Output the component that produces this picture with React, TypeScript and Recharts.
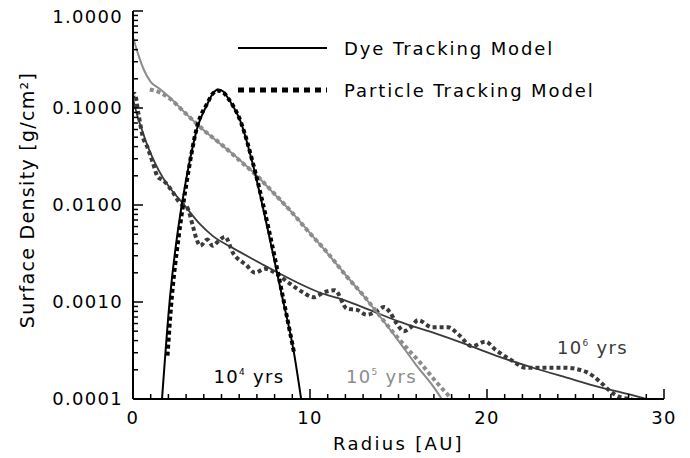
import React from "react";
import {
  LineChart,
  Line,
  XAxis,
  YAxis,
  Legend,
  ReferenceDot,
} from "recharts";

// ---- data: [radius AU, surface density g/cm^2] ----
const dye1e4: [number, number][] = [
  [1.64, 0.0001], [2.09, 0.00112], [2.54, 0.0055], [2.8, 0.0112], [3.2, 0.0282],
  [3.64, 0.0631], [4.2, 0.11], [4.5, 0.14], [4.8, 0.155], [5.1, 0.148], [5.4, 0.124],
  [6.1, 0.0708], [6.8, 0.0251], [7.6, 0.00575], [8.35, 0.00132], [9.1, 0.000295],
  [9.5, 0.0001],
];
const particle1e4: [number, number][] = [
  [1.95, 0.00028], [2.15, 0.0009], [2.6, 0.005], [3.0, 0.0158], [3.64, 0.066],
  [4.2, 0.112], [4.5, 0.14], [4.8, 0.151], [5.1, 0.145], [5.4, 0.124], [6.1, 0.071],
  [6.8, 0.026], [7.65, 0.0058], [8.4, 0.0013], [9.1, 0.0003],
];
const dye1e5: [number, number][] = [
  [0, 0.537], [0.3, 0.355], [0.6, 0.251], [1.0, 0.186], [1.5, 0.158], [2.0, 0.132],
  [3.0, 0.087], [4.0, 0.0589], [5.0, 0.0417], [6.0, 0.0295], [7.0, 0.02],
  [8.0, 0.0129], [9.0, 0.0083], [10.0, 0.00513], [11.0, 0.00316], [12.0, 0.00191],
  [13.0, 0.00117], [14.0, 0.000692], [15.0, 0.000398], [16.0, 0.000224],
  [17.0, 0.000132], [17.45, 0.0001],
];
const particle1e5: [number, number][] = [
  [0.95, 0.155], [1.5, 0.145], [2.0, 0.128], [3.0, 0.087], [4.0, 0.059], [5.0, 0.042],
  [6.0, 0.029], [7.0, 0.02], [8.0, 0.013], [9.0, 0.0083], [10.0, 0.0051],
  [11.0, 0.0032], [12.0, 0.0019], [13.0, 0.00118], [14.0, 0.0007], [14.6, 0.00051],
  [15.5, 0.00033], [16.2, 0.00024], [17.0, 0.00016], [17.5, 0.000126], [18.0, 0.0001],
];
const dye1e6: [number, number][] = [
  [0, 0.126], [0.2, 0.089], [0.5, 0.06], [0.8, 0.0417], [1.2, 0.0282], [1.7, 0.019],
  [2.2, 0.0141], [2.8, 0.0105], [3.8, 0.0063], [4.5, 0.0048], [5.7, 0.00355],
  [7.2, 0.00251], [8.2, 0.002], [9.3, 0.00158], [10.5, 0.00126], [11.9, 0.00105],
  [13.5, 0.00081], [15.0, 0.00063], [17.0, 0.00048], [18.75, 0.00037],
  [20.5, 0.00028], [22.6, 0.00021], [24.5, 0.000166], [26.4, 0.000132],
  [28.0, 0.000112], [29.0, 0.0001],
];
const particle1e6: [number, number][] = [
  [0, 0.13], [0.1, 0.14], [0.3, 0.089], [0.56, 0.05], [0.8, 0.04], [1.1, 0.028],
  [1.4, 0.0195], [1.7, 0.018], [2.2, 0.014], [2.65, 0.0105], [3.05, 0.0095],
  [3.4, 0.0059], [3.6, 0.0044], [3.8, 0.0038], [4.2, 0.0044], [4.5, 0.0038],
  [4.8, 0.0042], [5.2, 0.0047], [5.65, 0.0032], [6.4, 0.0024], [6.9, 0.002],
  [7.45, 0.0022], [8.2, 0.0019], [8.75, 0.0016], [9.6, 0.00126], [10.2, 0.00112],
  [10.8, 0.00126], [11.4, 0.00132], [12.1, 0.00085], [12.65, 0.00083],
  [13.2, 0.00074], [13.7, 0.00079], [14.2, 0.00089], [14.5, 0.00079],
  [14.9, 0.0006], [15.3, 0.0005], [15.7, 0.00055], [16.1, 0.00065], [16.9, 0.00055],
  [17.8, 0.00055], [18.4, 0.00046], [19.15, 0.00035], [19.9, 0.00039],
  [20.5, 0.00032], [21.4, 0.00025], [22.2, 0.00021], [23.3, 0.00021],
  [24.4, 0.00021], [25.6, 0.00019], [26.4, 0.00015], [26.9, 0.000123],
  [27.5, 0.000105], [28.2, 0.0001],
];

// ---- ticks ----
const xTicks: number[] = Array.from({ length: 31 }, (_, i) => i);
const xMajor = [0, 10, 20, 30];
const yMajor = [0.0001, 0.001, 0.01, 0.1, 1];
const yMajorLabels = ["0.0001", "0.0010", "0.0100", "0.1000", "1.0000"];
const yTicks: number[] = (() => {
  const t: number[] = [];
  for (let k = -4; k < 0; k++) {
    for (let m = 1; m < 10; m++) t.push(m * Math.pow(10, k));
  }
  t.push(1);
  return t;
})();

// ---- annotations ----
const ageLabels = [
  { r: 6.55, v: 0.000146, exp: "4", color: "#000000" },
  { r: 14.04, v: 0.000146, exp: "5", color: "#8c8c8c" },
  { r: 25.96, v: 0.000291, exp: "6", color: "#3a3a3a" },
];

const FONT = "DejaVu Sans";
const FS = 18;
const LS = 1.3;
const BLACK = "#000000";
const GRAY = "#8c8c8c";
const DARK = "#3a3a3a";

const toRows = (d: [number, number][]) => d.map(([r, v]) => ({ r, v }));

const isMajorY = (v: number) => {
  const l = Math.log10(v);
  return Math.abs(l - Math.round(l)) < 1e-9;
};
const yLabel = (v: number) => {
  const i = yMajor.findIndex((m) => Math.abs(Math.log10(m) - Math.log10(v)) < 1e-9);
  return i >= 0 ? yMajorLabels[i] : "";
};

const BottomTick = (p: any) => {
  const major = xMajor.includes(p.payload.value);
  return (
    <g>
      <line x1={p.x} x2={p.x} y1={p.y} y2={p.y - (major ? 10 : 5)} stroke={BLACK} strokeWidth={1.5} />
      {major && (
        <text x={p.x} y={p.y + 25} textAnchor="middle" fontFamily={FONT} fontSize={FS} fill={BLACK} letterSpacing={LS}>
          {p.payload.value}
        </text>
      )}
    </g>
  );
};
const TopTick = (p: any) => {
  const major = xMajor.includes(p.payload.value);
  return <line x1={p.x} x2={p.x} y1={p.y} y2={p.y + (major ? 10 : 5)} stroke={BLACK} strokeWidth={1.5} />;
};
const LeftTick = (p: any) => {
  const v = p.payload.value;
  const major = isMajorY(v);
  const isTop = major && Math.abs(v - 1) < 1e-9;
  return (
    <g>
      <line x1={p.x} x2={p.x + (major ? 10 : 5)} y1={p.y} y2={p.y} stroke={BLACK} strokeWidth={1.5} />
      {major && (
        <text x={p.x - 10} y={p.y + (isTop ? 6 : 0)} dy="0.36em" textAnchor="end" fontFamily={FONT} fontSize={FS} fill={BLACK} letterSpacing={LS}>
          {yLabel(v)}
        </text>
      )}
    </g>
  );
};
const RightTick = (p: any) => {
  const major = isMajorY(p.payload.value);
  return <line x1={p.x} x2={p.x - (major ? 10 : 5)} y1={p.y} y2={p.y} stroke={BLACK} strokeWidth={1.5} />;
};

const YTitle = (p: any) => {
  const vb = p.viewBox || {};
  const cy = (vb.y ?? 11) + (vb.height ?? 388) / 2 - 5;
  const cx = 34;
  return (
    <text x={cx} y={cy} transform={`rotate(-90 ${cx} ${cy})`} textAnchor="middle" fontFamily={FONT} fontSize={19} fill={BLACK} letterSpacing={1.3}>
      Surface Density [g/cm²]
    </text>
  );
};

const LegendBox = () => (
  <svg width={420} height={90}>
    <line x1={8} x2={97} y1={18} y2={18} stroke={BLACK} strokeWidth={2} />
    <text x={114} y={25} fontFamily={FONT} fontSize={FS} fill={BLACK} letterSpacing={1.9}>
      Dye Tracking Model
    </text>
    <line x1={8} x2={97} y1={60} y2={60} stroke={BLACK} strokeWidth={5} strokeDasharray="6 5" />
    <text x={114} y={67} fontFamily={FONT} fontSize={FS} fill={BLACK} letterSpacing={1.9}>
      Particle Tracking Model
    </text>
  </svg>
);

const AgeText = (color: string, exp: string) => (p: any) => (
  <text x={p.cx} y={p.cy} textAnchor="middle" fontFamily={FONT} fontSize={FS} fill={color} letterSpacing={LS}>
    10
    <tspan dy={-8} fontSize={9}>{exp}</tspan>
    <tspan dy={8}>{" yrs"}</tspan>
  </text>
);

export default function App() {
  return (
    <div style={{ position: "absolute", left: 0, top: 0, background: "#fff" }}>
      <LineChart width={690} height={458} margin={{ top: 11, right: 26, bottom: 0, left: 0 }}>
        <XAxis
          xAxisId="bottom"
          dataKey="r"
          type="number"
          domain={[0, 30]}
          allowDataOverflow
          ticks={xTicks}
          interval={0}
          tickSize={0}
          tickMargin={0}
          tickLine={false}
          tick={BottomTick}
          axisLine={{ stroke: BLACK, strokeWidth: 2 }}
          height={59}
          label={{ value: "Radius [AU]", position: "insideBottom", offset: 8, fontFamily: FONT, fontSize: FS, fill: BLACK, letterSpacing: 2.3 }}
        />
        <XAxis
          xAxisId="top"
          orientation="top"
          dataKey="r"
          type="number"
          domain={[0, 30]}
          allowDataOverflow
          ticks={xTicks}
          interval={0}
          tickSize={0}
          tickMargin={0}
          tickLine={false}
          tick={TopTick}
          axisLine={{ stroke: BLACK, strokeWidth: 2 }}
          height={0}
        />
        <YAxis
          yAxisId="left"
          type="number"
          scale="log"
          domain={[0.0001, 1]}
          allowDataOverflow
          ticks={yTicks}
          interval={0}
          tickSize={0}
          tickMargin={0}
          tickLine={false}
          tick={LeftTick}
          axisLine={{ stroke: BLACK, strokeWidth: 2 }}
          width={133}
          label={{ content: YTitle }}
        />
        <YAxis
          yAxisId="right"
          orientation="right"
          type="number"
          scale="log"
          domain={[0.0001, 1]}
          allowDataOverflow
          ticks={yTicks}
          interval={0}
          tickSize={0}
          tickMargin={0}
          tickLine={false}
          tick={RightTick}
          axisLine={{ stroke: BLACK, strokeWidth: 2 }}
          width={0}
        />
        <Legend
          layout="horizontal"
          verticalAlign="middle"
          align="center"
          content={LegendBox}
          wrapperStyle={{ position: "absolute", left: 230, top: 30, width: 420, height: 90 }}
        />
        <Line xAxisId="bottom" yAxisId="left" data={toRows(particle1e6)} dataKey="v" type="monotone" stroke={DARK} strokeWidth={4} strokeDasharray="4 3" dot={false} isAnimationActive={false} legendType="none" />
        <Line xAxisId="bottom" yAxisId="left" data={toRows(dye1e6)} dataKey="v" type="monotone" stroke={DARK} strokeWidth={1.8} dot={false} isAnimationActive={false} legendType="none" />
        <Line xAxisId="bottom" yAxisId="left" data={toRows(particle1e5)} dataKey="v" type="monotone" stroke={GRAY} strokeWidth={4} strokeDasharray="4 3" dot={false} isAnimationActive={false} legendType="none" />
        <Line xAxisId="bottom" yAxisId="left" data={toRows(dye1e5)} dataKey="v" type="monotone" stroke={GRAY} strokeWidth={2} dot={false} isAnimationActive={false} legendType="none" />
        <Line xAxisId="bottom" yAxisId="left" data={toRows(particle1e4)} dataKey="v" type="monotone" stroke={BLACK} strokeWidth={4} strokeDasharray="4 3" dot={false} isAnimationActive={false} legendType="none" />
        <Line xAxisId="bottom" yAxisId="left" data={toRows(dye1e4)} dataKey="v" type="monotone" stroke={BLACK} strokeWidth={2} dot={false} isAnimationActive={false} legendType="none" />
        {ageLabels.map((a) => (
          <ReferenceDot
            key={a.exp}
            xAxisId="bottom"
            yAxisId="left"
            x={a.r}
            y={a.v}
            r={0}
            ifOverflow="visible"
            shape={AgeText(a.color, a.exp)}
          />
        ))}
      </LineChart>
    </div>
  );
}
